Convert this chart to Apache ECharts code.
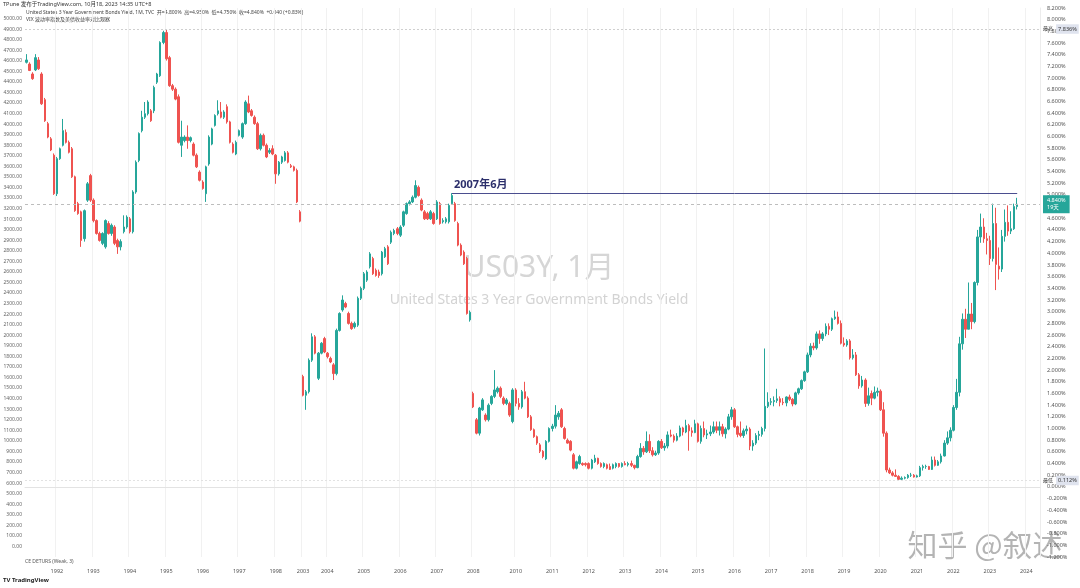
<!DOCTYPE html>
<html>
<head>
<meta charset="utf-8">
<script src="https://cdn.jsdelivr.net/npm/echarts@6/dist/echarts.min.js"></script>
<style>
html,body{margin:0;padding:0;background:#fff;}
#chart{width:1080px;height:588px;}
</style>
</head>
<body>
<div id="chart"></div>
<script>
// ---- DATA (monthly OHLC in %, [open, high, low, close]) ----
// Segment A: 1991-03 .. 1998-09
const segAStart = [1991, 3];
const ohlcA = [
[7.27,7.41,7.25,7.31],[7.24,7.27,7.12,7.13],[7.07,7.10,6.97,6.99],[7.14,7.41,7.12,7.35],[7.31,7.36,7.14,7.16],
[7.07,7.10,6.54,6.56],[6.63,6.66,6.25,6.27],[6.22,6.25,5.97,5.99],[5.96,5.99,5.75,5.77],[5.68,5.71,5.00,5.02],
[5.02,5.65,4.98,5.62],[5.62,5.81,5.60,5.79],[5.85,6.30,5.83,6.10],[6.07,6.12,5.88,5.90],[5.90,5.93,5.71,5.73],
[5.79,5.82,5.29,5.31],[5.31,5.33,4.71,4.73],[4.85,4.88,4.66,4.68],[4.71,4.73,4.11,4.22],[4.25,4.75,4.20,4.73],
[4.91,5.22,4.88,5.19],[5.33,5.36,4.88,4.91],[4.91,4.94,4.53,4.56],[4.56,4.58,4.32,4.34],[4.34,4.37,4.20,4.22],
[4.17,4.36,4.14,4.34],[4.11,4.58,4.08,4.56],[4.51,4.55,4.32,4.34],[4.34,4.51,4.30,4.48],[4.45,4.48,4.14,4.17],
[4.22,4.25,3.99,4.11],[4.11,4.24,4.05,4.20],[4.37,4.65,4.34,4.45],[4.45,4.65,4.42,4.62],[4.59,4.62,4.34,4.37],
[4.37,5.08,4.34,5.05],[5.05,5.59,5.02,5.56],[5.59,6.07,5.56,6.05],[6.10,6.44,6.07,6.33],[6.33,6.59,6.30,6.39],
[6.39,6.62,6.36,6.59],[6.44,6.47,6.25,6.27],[6.44,6.87,6.40,6.84],[6.93,7.09,6.90,7.07],[7.04,7.63,7.02,7.61],
[7.61,7.81,7.58,7.78],[7.78,7.836,7.30,7.33],[7.35,7.38,6.85,6.87],[6.87,6.90,6.78,6.81],[6.81,6.84,6.62,6.64],
[6.68,6.72,5.88,5.90],[5.85,6.27,5.65,5.99],[5.93,6.02,5.90,5.99],[5.99,6.19,5.79,5.93],[5.93,6.00,5.90,5.98],
[5.87,5.90,5.66,5.68],[5.68,5.71,5.46,5.48],[5.39,5.42,5.23,5.25],[5.22,5.25,5.09,5.11],[5.02,5.50,4.88,5.48],
[5.53,6.02,5.50,5.99],[5.87,6.15,5.85,6.13],[6.19,6.38,6.17,6.36],[6.39,6.62,6.36,6.44],[6.42,6.59,6.31,6.33],
[6.33,6.45,6.30,6.42],[6.51,6.55,6.22,6.25],[6.25,6.27,5.88,5.90],[5.87,5.90,5.71,5.73],[5.70,5.93,5.68,5.90],
[6.02,6.12,6.00,6.10],[5.99,6.24,5.96,6.22],[6.22,6.62,6.20,6.59],[6.56,6.70,6.40,6.42],[6.44,6.47,6.34,6.36],
[6.33,6.36,6.20,6.22],[6.22,6.25,5.77,5.79],[5.79,6.05,5.76,6.02],[6.02,6.05,5.83,5.85],[5.85,5.88,5.63,5.65],
[5.73,5.80,5.70,5.76],[5.79,5.85,5.68,5.70],[5.68,5.70,5.19,5.36],[5.36,5.58,5.33,5.56],[5.56,5.67,5.53,5.65],
[5.59,5.75,5.57,5.72],[5.72,5.75,5.54,5.56],[5.50,5.53,5.46,5.48],[5.48,5.50,5.40,5.42],[5.42,5.45,4.86,4.88],
[4.71,4.74,4.53,4.55]
];
// Segment B: 2003-05 .. 2007-12
const segBStart = [2003, 5];
const ohlcB = [
[1.89,1.92,1.55,1.57],[1.57,1.66,1.32,1.63],[1.63,2.20,1.60,2.17],[2.17,2.63,2.14,2.57],[2.57,2.60,2.27,2.29],
[1.86,2.31,1.83,2.29],[2.29,2.48,2.27,2.46],[2.54,2.57,2.29,2.31],[2.29,2.31,2.20,2.23],[2.20,2.23,2.12,2.14],
[2.09,2.12,1.83,1.94],[1.94,2.71,1.91,2.68],[2.68,2.99,2.66,2.97],[3.03,3.28,3.00,3.20],[3.14,3.17,3.06,3.08],
[2.97,3.00,2.78,2.80],[2.80,2.83,2.69,2.71],[2.74,2.83,2.71,2.80],[2.77,3.26,2.74,3.23],[3.23,3.43,3.20,3.40],
[3.40,3.68,3.37,3.65],[3.54,3.71,3.51,3.68],[3.77,4.02,3.74,3.99],[3.91,3.94,3.63,3.65],[3.71,3.74,3.60,3.62],
[3.68,3.72,3.58,3.62],[3.65,4.04,3.62,4.02],[3.94,4.11,3.92,4.08],[4.11,4.14,3.80,3.82],[4.19,4.39,4.16,4.36],
[4.34,4.42,4.31,4.39],[4.42,4.45,4.31,4.34],[4.31,4.48,4.28,4.45],[4.48,4.73,4.45,4.71],[4.68,4.87,4.66,4.85],
[4.85,4.91,4.82,4.88],[4.88,4.99,4.86,4.96],[4.96,5.25,4.94,5.16],[5.13,5.16,4.97,4.99],[4.91,4.94,4.72,4.74],
[4.71,4.74,4.57,4.59],[4.68,4.71,4.57,4.59],[4.59,4.74,4.57,4.71],[4.68,4.71,4.49,4.51],[4.59,4.91,4.57,4.88],
[4.85,4.88,4.49,4.51],[4.54,4.60,4.51,4.56],[4.54,4.62,4.51,4.59],[4.54,4.85,4.51,4.82],[4.85,5.03,4.83,4.99],
[4.85,4.88,4.54,4.56],[4.51,4.54,4.12,4.14],[4.14,4.17,3.95,3.97],[4.02,4.05,3.80,3.82],[3.91,3.94,2.95,2.97],
[2.86,3.02,2.83,2.99]
];
// Segment C: 2008-11 .. 2023-10
const segCStart = [2008, 11];
const ohlcC = [
[1.60,1.63,1.35,1.37],[1.15,1.18,0.90,0.92],
[0.92,1.37,0.88,1.35],[1.32,1.52,1.30,1.49],[1.23,1.26,1.12,1.15],[1.15,1.43,1.12,1.40],[1.43,1.57,1.40,1.55],[1.55,2.00,1.52,1.66],
[1.63,1.72,1.60,1.69],[1.69,1.72,1.52,1.55],[1.52,1.55,1.40,1.43],[1.43,1.52,1.40,1.49],[1.43,1.46,1.20,1.23],[1.12,1.69,1.09,1.66],
[1.66,1.69,1.38,1.43],[1.43,1.52,1.32,1.37],[1.37,1.66,1.34,1.63],[1.63,1.80,1.50,1.52],[1.52,1.55,1.18,1.20],[1.20,1.23,0.96,0.98],
[0.98,1.00,0.84,0.86],[0.86,0.88,0.72,0.75],[0.72,0.75,0.58,0.61],[0.61,0.63,0.49,0.52],[0.48,0.80,0.46,0.78],[0.78,1.02,0.76,1.00],
[1.00,1.08,0.95,1.04],[1.04,1.40,1.00,1.23],[1.20,1.30,1.15,1.26],[1.32,1.35,1.01,1.03],[1.00,1.03,0.81,0.83],[0.80,0.83,0.74,0.75],
[0.78,0.80,0.61,0.63],[0.55,0.58,0.30,0.32],[0.32,0.45,0.30,0.43],[0.40,0.55,0.38,0.52],[0.40,0.42,0.36,0.38],[0.40,0.42,0.35,0.38],
[0.40,0.42,0.30,0.32],[0.32,0.48,0.30,0.46],[0.43,0.55,0.41,0.49],[0.49,0.50,0.38,0.40],[0.40,0.42,0.33,0.35],[0.35,0.42,0.32,0.40],
[0.38,0.40,0.30,0.32],[0.35,0.40,0.29,0.30],[0.32,0.40,0.30,0.38],[0.35,0.42,0.32,0.40],[0.40,0.41,0.33,0.35],[0.35,0.42,0.33,0.40],
[0.40,0.44,0.37,0.38],[0.38,0.43,0.35,0.40],[0.40,0.45,0.34,0.37],[0.37,0.38,0.30,0.33],[0.33,0.55,0.32,0.52],[0.52,0.75,0.50,0.66],
[0.66,0.70,0.55,0.60],[0.60,0.95,0.58,0.78],[0.78,0.90,0.58,0.62],[0.62,0.68,0.52,0.55],[0.55,0.62,0.53,0.58],[0.58,0.80,0.55,0.78],
[0.78,0.82,0.65,0.67],[0.67,0.75,0.62,0.70],[0.70,0.95,0.66,0.89],[0.89,0.98,0.85,0.87],[0.87,0.90,0.76,0.80],[0.80,0.92,0.78,0.87],
[0.87,1.05,0.85,1.01],[1.01,1.03,0.88,0.94],[0.94,1.15,0.92,1.05],[1.05,1.08,0.62,0.96],[0.96,1.02,0.86,0.93],[0.93,1.15,0.92,1.08],
[1.08,1.10,0.76,0.78],[0.78,1.05,0.74,1.00],[1.00,1.12,0.85,0.89],[0.89,0.98,0.82,0.91],[0.91,1.05,0.87,0.94],[0.94,1.12,0.91,1.03],
[1.03,1.12,0.92,0.97],[0.97,1.12,0.88,1.03],[1.03,1.08,0.86,0.91],[0.91,1.02,0.83,0.99],[0.99,1.25,0.97,1.20],[1.20,1.37,1.15,1.32],
[1.32,1.35,1.01,1.03],[1.03,1.05,0.85,0.90],[0.92,1.12,0.85,0.88],[0.88,1.00,0.84,0.96],[0.96,1.05,0.90,0.99],[0.99,1.02,0.63,0.70],
[0.70,0.80,0.62,0.75],[0.75,0.92,0.72,0.88],[0.88,0.96,0.80,0.90],[0.90,1.03,0.86,1.00],[1.00,2.37,0.95,1.38],[1.38,1.62,1.35,1.45],
[1.45,1.52,1.40,1.46],[1.46,1.55,1.38,1.48],[1.48,1.68,1.44,1.51],[1.51,1.55,1.38,1.45],[1.45,1.52,1.40,1.44],[1.44,1.55,1.38,1.54],
[1.54,1.58,1.47,1.50],[1.50,1.52,1.38,1.42],[1.42,1.63,1.40,1.61],[1.61,1.70,1.58,1.68],[1.68,1.84,1.66,1.82],[1.82,1.99,1.80,1.97],
[1.97,2.30,1.95,2.26],[2.26,2.46,2.22,2.41],[2.41,2.47,2.34,2.38],[2.38,2.66,2.35,2.62],[2.62,2.68,2.45,2.54],[2.54,2.65,2.50,2.62],
[2.62,2.80,2.58,2.75],[2.75,2.80,2.60,2.70],[2.70,2.90,2.67,2.88],[2.88,3.02,2.86,2.91],[2.91,3.00,2.78,2.80],[2.80,2.85,2.44,2.46],
[2.46,2.56,2.40,2.43],[2.43,2.53,2.40,2.50],[2.50,2.53,2.18,2.21],[2.21,2.36,2.18,2.26],[2.26,2.31,1.90,1.92],[1.92,1.95,1.68,1.73],
[1.73,1.90,1.70,1.83],[1.83,1.86,1.37,1.43],[1.43,1.70,1.39,1.56],[1.60,1.65,1.40,1.52],[1.52,1.72,1.50,1.62],[1.62,1.70,1.55,1.64],
[1.64,1.67,1.30,1.32],[1.32,1.45,0.86,0.92],[0.92,0.95,0.25,0.29],[0.29,0.33,0.22,0.24],[0.24,0.27,0.18,0.20],[0.20,0.30,0.17,0.18],
[0.18,0.20,0.12,0.13],[0.13,0.18,0.112,0.15],[0.15,0.18,0.13,0.16],[0.16,0.22,0.14,0.20],[0.20,0.24,0.17,0.20],[0.20,0.22,0.16,0.17],
[0.17,0.21,0.16,0.19],[0.19,0.36,0.17,0.33],[0.33,0.38,0.28,0.35],[0.35,0.38,0.31,0.35],[0.35,0.36,0.29,0.30],[0.30,0.52,0.29,0.46],
[0.46,0.52,0.35,0.37],[0.37,0.46,0.36,0.43],[0.43,0.57,0.40,0.53],[0.53,0.80,0.52,0.75],[0.75,0.95,0.72,0.84],[0.84,1.02,0.78,0.97],
[0.97,1.40,0.95,1.36],[1.36,1.85,1.32,1.62],[1.62,2.57,1.55,2.45],[2.45,2.97,2.35,2.87],[2.87,3.05,2.55,2.70],[2.70,3.50,2.70,2.96],
[2.96,3.15,2.70,2.83],[2.83,3.52,2.80,3.50],[3.50,4.40,3.45,4.28],[4.28,4.68,4.18,4.45],[4.45,4.60,4.18,4.25],[4.25,4.35,3.98,4.22],
[4.22,4.30,3.80,3.91],[3.91,4.85,3.86,4.51],[4.51,4.78,3.37,3.81],[3.78,4.10,3.55,3.73],[3.73,4.40,3.68,4.29],[4.29,4.75,4.20,4.53],
[4.53,4.82,4.30,4.38],[4.38,4.72,4.33,4.42],[4.42,4.85,4.40,4.80],[4.80,4.95,4.75,4.84]
];
const trailingEmptyMonths = 7;
// x-axis tick labels [category, text]
const xTickLabels = [
['1992-01','1992'],['1993-01','1993'],['1994-01','1994'],['1995-01','1995'],['1996-01','1996'],['1997-01','1997'],['1998-01','1998'],
['2003-05','2003'],['2004-01','2004'],['2005-01','2005'],['2006-01','2006'],['2007-01','2007'],['2008-11','2008'],
['2010-01','2010'],['2011-01','2011'],['2012-01','2012'],['2013-01','2013'],['2014-01','2014'],['2015-01','2015'],['2016-01','2016'],
['2017-01','2017'],['2018-01','2018'],['2019-01','2019'],['2020-01','2020'],['2021-01','2021'],['2022-01','2022'],['2023-01','2023'],['2024-01','2024']
];
const markedMonth = '2007-06';
const markedLabel = '2007年6月';

// ---- build ----
function months(start, n){
  const out=[]; let y=start[0], m=start[1];
  for(let i=0;i<n;i++){ out.push(y+'-'+String(m).padStart(2,'0')); m++; if(m>12){m=1;y++;} }
  return out;
}
const catA = months(segAStart, ohlcA.length);
const catB = months(segBStart, ohlcB.length);
const catC = months(segCStart, ohlcC.length + trailingEmptyMonths);
const categories = catA.concat(catB, catC);
const bars = ohlcA.concat(ohlcB, ohlcC);
const candle = bars.map(d => [d[0], d[3], d[2], d[1]]);
const tickMap = new Map(xTickLabels);
const hiAll = Math.max(...bars.map(d=>d[1]));
const loAll = Math.min(...bars.map(d=>d[2]));
const last = bars[bars.length-1];
const markedBar = bars[categories.indexOf(markedMonth)];
const lastCat = categories[bars.length-1];
const UP='#26a69a', DOWN='#ef5350';
const FONT='"Noto Sans","Noto Sans CJK SC",sans-serif';

const chart = echarts.init(document.getElementById('chart'), null, {renderer:'canvas'});
chart.setOption({
  animation:false,
  backgroundColor:'#ffffff',
  textStyle:{fontFamily:FONT},
  grid:{left:25, right:40, top:8, bottom:31},
  xAxis:{
    type:'category', data:categories, boundaryGap:true,
    axisLine:{show:true, lineStyle:{color:'#e3e3e3'}},
    axisTick:{show:false},
    axisLabel:{interval:(i,v)=>tickMap.has(v), formatter:v=>tickMap.get(v)||'', fontSize:5.5, color:'#555', margin:12, fontFamily:FONT},
    splitLine:{show:true, interval:(i,v)=>tickMap.has(v), lineStyle:{color:'#f1f1f1', width:1}}
  },
  yAxis:[
    {type:'value', position:'right', min:-1.2, max:8.2, interval:0.2, scale:true,
     axisLine:{show:true, lineStyle:{color:'#ececec'}}, axisTick:{show:false}, splitLine:{show:false},
     axisLabel:{formatter:v=>v.toFixed(3)+'%', fontSize:5.5, color:'#555', margin:7, fontFamily:FONT}},
    {type:'value', position:'left', min:-100, max:5100, interval:100,
     axisLine:{show:false}, axisTick:{show:false}, splitLine:{show:false},
     axisLabel:{formatter:v=>(v<0||v>5000)?'':v.toFixed(2), fontSize:5, color:'#666', margin:3, fontFamily:FONT}}
  ],
  series:[
    {type:'candlestick', data:candle, yAxisIndex:0, barWidth:2,
     itemStyle:{color:UP, color0:DOWN, borderColor:UP, borderColor0:DOWN, borderWidth:1},
     markLine:{
       symbol:'none', silent:true,
       data:[
         [{coord:[markedMonth, markedBar[1]], lineStyle:{color:'#4b4e8f', width:1, type:'solid'},
           label:{show:true, position:'insideStartTop', formatter:markedLabel, color:'#2c2f6b', fontSize:11, fontWeight:'bold', distance:[2,3], fontFamily:FONT}},
          {coord:[lastCat, markedBar[1]]}],
         {yAxis:hiAll, lineStyle:{color:'#cfcfcf', type:[2,2], width:1},
          label:{show:true, position:'end', distance:3, formatter:'{a|最高} {b|'+hiAll.toFixed(3)+'%}',
                 rich:{a:{fontSize:5, color:'#444'}, b:{fontSize:5.5, color:'#333', backgroundColor:'#dfe3ee', padding:[2,2]}}}},
         {yAxis:loAll, lineStyle:{color:'#e2e2e2', type:[2,2], width:1},
          label:{show:true, position:'end', distance:3, formatter:'{a|最低} {b|'+loAll.toFixed(3)+'%}',
                 rich:{a:{fontSize:5, color:'#444'}, b:{fontSize:5.5, color:'#333', backgroundColor:'#dfe3ee', padding:[2,2]}}}},
         {yAxis:last[3], lineStyle:{color:'#bdbdbd', type:[3,3], width:1},
          label:{show:true, position:'end', distance:3, formatter:last[3].toFixed(3)+'%\n19天',
                 backgroundColor:UP, color:'#fff', fontSize:5.5, padding:[2,4], lineHeight:7}}
       ]
     }
    }
  ],
  graphic:[
    {type:'text', x:3, y:2, style:{text:'TPune 发布于TradingView.com, 10月18, 2023 14:35 UTC+8', fill:'#333', font:'5.5px '+FONT}},
    {type:'text', x:26, y:10, style:{text:'United States 3 Year Government Bonds Yield, 1M, TVC  开=4.800%  高=4.950%  低=4.750%  收=4.840%  +0.040 (+0.83%)', fill:'#444', font:'5px '+FONT}},
    {type:'text', x:26, y:17, style:{text:'VIX 波动率指数及美债收益率对比观察', fill:'#444', font:'5px '+FONT}},
    {type:'text', x:539, y:268, style:{text:'US03Y, 1月', fill:'#d6d6d6', font:'30px '+FONT, align:'center', verticalAlign:'middle'}},
    {type:'text', x:539, y:300, style:{text:'United States 3 Year Government Bonds Yield', fill:'#d3d3d3', font:'14px '+FONT, align:'center', verticalAlign:'middle'}},
    {type:'text', x:25, y:559, style:{text:'CE DETURS (Weak, 3)', fill:'#555', font:'5px '+FONT}},
    {type:'text', x:3, y:577, style:{text:'TV TradingView', fill:'#222', font:'bold 6px '+FONT}},
    {type:'text', x:985, y:545, style:{text:'知乎 @叙述', fill:'rgba(130,130,130,0.6)', stroke:'rgba(255,255,255,0.8)', lineWidth:1, font:'30px "Noto Sans CJK SC",sans-serif', align:'center', verticalAlign:'middle'}}
  ]
});
</script>
</body>
</html>
